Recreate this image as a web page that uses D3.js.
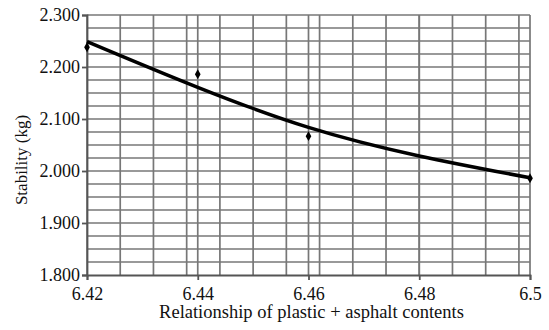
<!DOCTYPE html>
<html>
<head>
<meta charset="utf-8">
<script src="https://cdn.jsdelivr.net/npm/d3@7"></script>
<style>
  body { margin: 0; background: #fff; }
  text { font-family: "Liberation Serif", "Times New Roman", serif; fill: #111; }
</style>
</head>
<body>
<div id="chart-area"></div>
<script>
// measured points
var contents = [6.42, 6.44, 6.46, 6.5];
var stability = [2.238, 2.186, 2.067, 1.986];

// trend line
var trendX = [6.42, 6.44, 6.46, 6.48, 6.5];
var trendY = [2.249, 2.161, 2.084, 2.029, 1.987];

var xTicks = [6.42, 6.44, 6.46, 6.48, 6.5];
var xTickLabels = ["6.42", "6.44", "6.46", "6.48", "6.5"];
var yTicks = [1.8, 1.9, 2.0, 2.1, 2.2, 2.3];
var yTickLabels = ["1.800", "1.900", "2.000", "2.100", "2.200", "2.300"];

var width = 549, height = 330;
var plotLeft = 87, plotRight = 530, plotTop = 15, plotBottom = 275;

var svg = d3.select("#chart-area").append("svg")
	.attr("width", width)
	.attr("height", height);

var x = d3.scaleLinear().domain([6.42, 6.5]).range([plotLeft, plotRight]);
var y = d3.scaleLinear().domain([1.8, 2.3]).range([plotBottom, plotTop]);

var gridColor = "#777";

// minor grid (every 0.006 across, every 0.025 up)
var xMinor = d3.range(6.426, 6.5, 0.006);
var yMinor = d3.range(1.825, 2.301, 0.025);

svg.append("g").selectAll("line").data(xMinor.concat(xTicks)).enter().append("line")
	.attr("x1", d => x(d)).attr("x2", d => x(d))
	.attr("y1", plotTop).attr("y2", plotBottom)
	.attr("stroke", gridColor).attr("stroke-width", 1.7);

svg.append("g").selectAll("line").data(yMinor).enter().append("line")
	.attr("x1", plotLeft).attr("x2", plotRight)
	.attr("y1", d => y(d)).attr("y2", d => y(d))
	.attr("stroke", gridColor).attr("stroke-width", 1.7);

// axes
var xAxis = d3.axisBottom(x).tickValues(xTicks)
	.tickFormat((d, i) => xTickLabels[i]).tickSizeOuter(0).tickSize(5).tickPadding(7);
var yAxis = d3.axisLeft(y).tickValues(yTicks)
	.tickFormat((d, i) => yTickLabels[i]).tickSizeOuter(0).tickSize(5).tickPadding(2);

var gx = svg.append("g").attr("transform", "translate(0," + plotBottom + ")").call(xAxis);
var gy = svg.append("g").attr("transform", "translate(" + plotLeft + ",0)").call(yAxis);

[gx, gy].forEach(g => {
	g.attr("font-family", "Liberation Serif").attr("font-size", 18);
	g.selectAll("path, line").attr("stroke", "#555").attr("stroke-width", 1.8);
	g.selectAll("text").attr("fill", "#111");
});

// trend line
var line = d3.line()
	.x((d, i) => x(trendX[i]))
	.y(d => y(d))
	.curve(d3.curveNatural);

svg.append("path")
	.attr("d", line(trendY))
	.attr("fill", "none")
	.attr("stroke", "#000")
	.attr("stroke-width", 3.5);

// markers
svg.append("g").selectAll("path").data(stability).enter().append("path")
	.attr("d", d3.symbol().type(d3.symbolDiamond).size(28))
	.attr("transform", (d, i) => "translate(" + x(contents[i]) + "," + y(d) + ")")
	.attr("fill", "#000");

// titles
svg.append("text")
	.attr("x", (plotLeft + plotRight) / 2 + 3)
	.attr("y", 318)
	.attr("text-anchor", "middle")
	.style("font-size", "18.5px")
	.text("Relationship of plastic + asphalt contents");

svg.append("text")
	.attr("transform", "translate(27,160) rotate(-90)")
	.attr("text-anchor", "middle")
	.style("font-size", "17px")
	.text("Stability (kg)");
</script>
</body>
</html>
